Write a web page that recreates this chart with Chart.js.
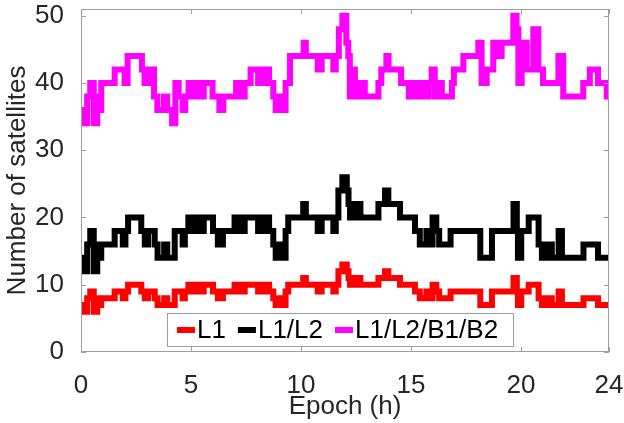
<!DOCTYPE html>
<html>
<head>
<meta charset="utf-8">
<script src="https://cdn.jsdelivr.net/npm/chart.js@4.4.1/dist/chart.umd.min.js"></script>
<style>
  html, body { margin: 0; padding: 0; background: #fff; }
</style>
</head>
<body>
<canvas id="satChart" width="624" height="423"></canvas>
<script>
// change points (h) shared by the GPS curves, and the counts
const epochGps = [0, 0.10, 0.28, 0.42, 0.58, 0.74, 0.83, 0.92, 1.53, 1.90,
  2.02, 2.14, 2.74, 2.90, 3.05, 3.35, 3.48, 3.78, 3.92, 4.26,
  4.62, 4.72, 4.88, 5.00, 5.10, 5.22, 5.32, 5.45, 5.58, 6.00,
  6.22, 6.45, 6.98, 7.18, 7.44, 8.05, 8.12, 8.30, 8.40, 8.55,
  8.74, 8.85, 9.05, 9.15, 9.30, 9.42, 10.10, 10.22, 10.76, 10.94,
  11.47, 11.58, 11.70, 11.88, 12.08, 12.16, 12.23, 12.35, 12.45, 12.58,
  12.70, 13.52, 13.82, 13.97, 14.50, 15.18, 15.40, 15.70, 15.82, 15.98,
  16.15, 16.28, 16.80, 18.15, 18.68, 19.66, 19.81, 19.86, 20.01, 20.35,
  20.80, 20.95, 21.18, 21.40, 21.71, 21.86, 22.84, 23.50, 24];
const satL1 = [7, 6, 8, 9, 6, 8, 7, 8, 9, 8,
  9, 10, 9, 8, 9, 8, 7, 8, 7, 9,
  8, 9, 10, 9, 10, 9, 10, 9, 10, 9,
  8, 9, 10, 9, 10, 9, 10, 9, 10, 9,
  8, 7, 8, 7, 9, 10, 11, 10, 9, 10,
  9, 10, 12, 13, 12, 11, 10, 11, 10, 11,
  10, 11, 12, 11, 10, 9, 8, 9, 8, 10,
  9, 8, 9, 7, 9, 11, 9, 7, 9, 10,
  8, 7, 8, 7, 9, 7, 8, 7, 7];
const satL1L2 = [14, 12, 16, 18, 12, 16, 14, 16, 18, 16,
  18, 20, 18, 16, 18, 16, 14, 16, 14, 18,
  16, 18, 20, 18, 20, 18, 20, 18, 20, 18,
  16, 18, 20, 18, 20, 18, 20, 18, 20, 18,
  16, 14, 16, 14, 18, 20, 22, 20, 18, 20,
  18, 20, 24, 26, 24, 22, 20, 22, 20, 22,
  20, 22, 24, 22, 20, 18, 16, 18, 16, 20,
  18, 16, 18, 14, 18, 22, 18, 14, 18, 20,
  16, 14, 16, 14, 18, 14, 16, 14, 14];

const epochAll = [0, 0.17, 0.28, 0.42, 0.58, 0.74, 0.83, 0.92, 1.53, 1.98,
  2.12, 2.77, 2.89, 3.08, 3.32, 3.47, 3.77, 3.92, 4.14, 4.29,
  4.44, 4.62, 4.74, 4.89, 5.02, 5.11, 5.22, 5.32, 5.45, 5.58,
  5.98, 6.29, 6.47, 7.05, 7.17, 7.44, 7.71, 8.05, 8.12, 8.30,
  8.40, 8.55, 8.74, 8.85, 9.05, 9.15, 9.30, 9.50, 10.12, 10.22,
  10.76, 10.94, 11.47, 11.58, 11.72, 11.88, 12.06, 12.15, 12.22, 12.35,
  12.45, 12.55, 12.70, 12.80, 12.90, 13.52, 13.65, 13.88, 13.98, 14.55,
  14.90, 15.10, 15.20, 15.45, 15.55, 15.80, 15.94, 16.08, 16.18, 16.40,
  16.86, 16.95, 17.38, 18.06, 18.21, 18.44, 18.74, 18.97, 19.12, 19.65,
  19.80, 19.88, 20.03, 20.26, 20.56, 20.79, 21.00, 21.70, 21.92, 22.83,
  23.13, 23.50, 23.90, 24];
const satAll = [36, 34, 38, 40, 34, 38, 36, 40, 42, 40,
  44, 42, 40, 42, 38, 36, 38, 36, 34, 40,
  38, 36, 38, 40, 38, 40, 38, 40, 38, 40,
  38, 36, 38, 40, 38, 40, 42, 40, 42, 40,
  42, 40, 38, 36, 38, 36, 40, 44, 46, 44,
  42, 44, 42, 44, 48, 50, 46, 44, 38, 42,
  38, 40, 38, 40, 38, 40, 42, 44, 42, 40,
  38, 40, 38, 40, 38, 40, 42, 38, 40, 38,
  40, 42, 44, 46, 40, 42, 46, 44, 46, 50,
  48, 40, 46, 42, 48, 42, 40, 44, 38, 40,
  42, 40, 38, 38];

const xTicks = [0, 5, 10, 15, 20, 24];
const yTicks = [0, 10, 20, 30, 40, 50];
const seriesNames = ["L1", "L1/L2", "L1/L2/B1/B2"];
const seriesColors = ["#ff0000", "#000000", "#ff00ff"];

const FONT = '"Liberation Sans", Arial, sans-serif';
Chart.defaults.font.family = FONT;
Chart.defaults.font.size = 26;
Chart.defaults.color = "#262626";

function toPoints(times, values) {
  return times.map((t, i) => ({ x: t, y: values[i] }));
}

// box round the axes with inward ticks, like the original figure
const axesBox = {
  id: "axesBox",
  afterDatasetsDraw(chart) {
    const { ctx, chartArea: a, scales } = chart;
    ctx.save();
    ctx.strokeStyle = "#9e9e9e";
    ctx.lineWidth = 1;
    ctx.strokeRect(a.left + 0.5, a.top + 0.5, a.right - a.left - 1, a.bottom - a.top - 1);
    ctx.beginPath();
    xTicks.forEach((v) => {
      const px = Math.round(scales.x.getPixelForValue(v)) + 0.5;
      ctx.moveTo(px, a.bottom); ctx.lineTo(px, a.bottom - 5);
      ctx.moveTo(px, a.top); ctx.lineTo(px, a.top + 5);
    });
    yTicks.forEach((v) => {
      const py = Math.round(scales.y.getPixelForValue(v)) + 0.5;
      ctx.moveTo(a.left, py); ctx.lineTo(a.left + 5, py);
      ctx.moveTo(a.right, py); ctx.lineTo(a.right - 5, py);
    });
    ctx.stroke();
    ctx.restore();
  },
};

// legend box sitting inside the axes, bottom centre
const insideLegend = {
  id: "insideLegend",
  afterDraw(chart) {
    const ctx = chart.ctx;
    ctx.save();
    ctx.fillStyle = "#fff";
    ctx.fillRect(167.5, 313.5, 346, 33);
    ctx.strokeStyle = "#9e9e9e";
    ctx.lineWidth = 1;
    ctx.strokeRect(167.5, 313.5, 346, 33);
    ctx.font = "26px " + FONT;
    ctx.textBaseline = "middle";
    let x = 177;
    const y = 330;
    chart.data.datasets.forEach((ds) => {
      ctx.strokeStyle = ds.borderColor;
      ctx.lineWidth = 6;
      ctx.beginPath();
      ctx.moveTo(x, y);
      ctx.lineTo(x + 18, y);
      ctx.stroke();
      ctx.fillStyle = "#000";
      ctx.fillText(ds.label, x + 20, y + 1);
      x += 20 + ctx.measureText(ds.label).width + 12;
    });
    ctx.restore();
  },
};

const ctx = document.getElementById("satChart").getContext("2d");
new Chart(ctx, {
  type: "line",
  data: {
    datasets: [
      { label: seriesNames[0], data: toPoints(epochGps, satL1), borderColor: seriesColors[0] },
      { label: seriesNames[1], data: toPoints(epochGps, satL1L2), borderColor: seriesColors[1] },
      { label: seriesNames[2], data: toPoints(epochAll, satAll), borderColor: seriesColors[2] },
    ],
  },
  options: {
    responsive: false,
    animation: false,
    layout: { padding: { left: 0, top: 9, right: 15, bottom: 0 }, autoPadding: false },
    elements: {
      point: { radius: 0 },
      line: { borderWidth: 6, stepped: true, borderJoinStyle: "miter", fill: false },
    },
    plugins: {
      legend: { display: false },
      tooltip: { enabled: false },
    },
    scales: {
      x: {
        type: "linear",
        min: 0,
        max: 24,
        grid: { display: false },
        border: { display: false },
        afterBuildTicks: (s) => { s.ticks = xTicks.map((v) => ({ value: v })); },
        afterFit: (s) => { s.height = 71; s.paddingLeft = 0; s.paddingRight = 0; },
        ticks: { padding: 10, maxRotation: 0, autoSkip: false },
        title: { display: true, text: "Epoch (h)", padding: { top: 0, bottom: 1 } },
      },
      y: {
        type: "linear",
        min: 0,
        max: 51,
        grid: { display: false },
        border: { display: false },
        afterBuildTicks: (s) => { s.ticks = yTicks.map((v) => ({ value: v })); },
        afterFit: (s) => { s.width = 81; s.paddingTop = 0; s.paddingBottom = 0; },
        ticks: { padding: 9 },
        title: { display: true, text: "Number of satellites", padding: { top: 2, bottom: 0 } },
      },
    },
  },
  plugins: [axesBox, insideLegend],
});
</script>
</body>
</html>
